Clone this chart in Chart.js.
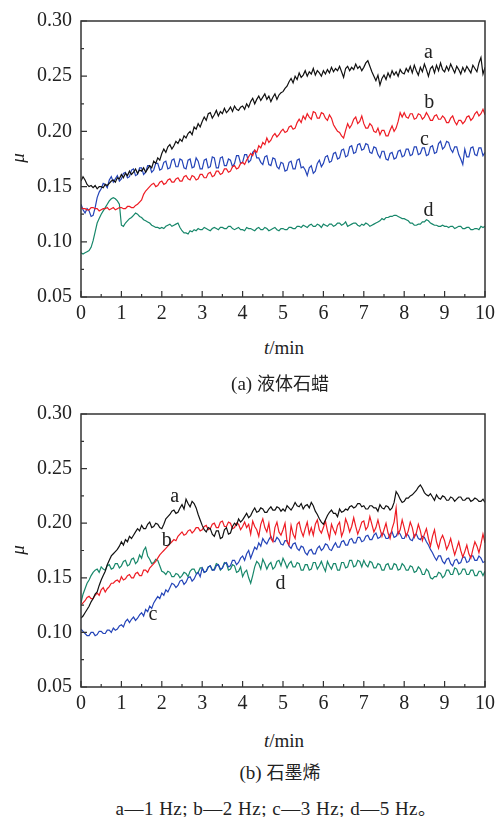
<!DOCTYPE html>
<html>
<head>
<meta charset="utf-8">
<script src="https://cdn.jsdelivr.net/npm/chart.js@4.4.1/dist/chart.umd.min.js"></script>
<style>
  html, body { margin: 0; padding: 0; background: #fff; }
  body { width: 500px; height: 817px; position: relative; overflow: hidden; }
  canvas { position: absolute; left: 0; }
  .txt { position: absolute; white-space: nowrap; color: #222;
         font-family: 'Liberation Serif', 'Times New Roman', serif; font-size: 19px;
         transform: translate(-50%, -50%); line-height: 1; }
  .cjk { font-family: 'Noto Sans CJK SC', sans-serif; font-size: 18px; }
  .mu { font-style: italic; transform: translate(-50%, -50%) rotate(-90deg); }
</style>
</head>
<body>
<canvas id="chartA" width="500" height="330" style="top:0"></canvas>
<canvas id="chartB" width="500" height="330" style="top:393px"></canvas>

<div class="txt mu" style="left:17px; top:158px;">μ</div>
<div class="txt" style="left:284px; top:347px;"><i>t</i>/min</div>
<div class="txt" style="left:280px; top:383px;">(a) <span class="cjk">液体石蜡</span></div>

<div class="txt mu" style="left:17px; top:550px;">μ</div>
<div class="txt" style="left:284px; top:740px;"><i>t</i>/min</div>
<div class="txt" style="left:280px; top:772px;">(b) <span class="cjk">石墨烯</span></div>
<div class="txt" style="left:276px; top:808px; letter-spacing:0.5px;">a—1 Hz; b—2 Hz; c—3 Hz; d—5 Hz<span class="cjk">。</span></div>

<script>
// time axis, minutes (one reading every 0.05 min)
const minutes = [
  0, 0.05, 0.1, 0.15, 0.2, 0.25, 0.3, 0.35, 0.4, 0.45, 0.5, 0.55, 0.6, 0.65, 0.7, 0.75, 0.8, 0.85, 0.9, 0.95,
  1, 1.05, 1.1, 1.15, 1.2, 1.25, 1.3, 1.35, 1.4, 1.45, 1.5, 1.55, 1.6, 1.65, 1.7, 1.75, 1.8, 1.85, 1.9, 1.95,
  2, 2.05, 2.1, 2.15, 2.2, 2.25, 2.3, 2.35, 2.4, 2.45, 2.5, 2.55, 2.6, 2.65, 2.7, 2.75, 2.8, 2.85, 2.9, 2.95,
  3, 3.05, 3.1, 3.15, 3.2, 3.25, 3.3, 3.35, 3.4, 3.45, 3.5, 3.55, 3.6, 3.65, 3.7, 3.75, 3.8, 3.85, 3.9, 3.95,
  4, 4.05, 4.1, 4.15, 4.2, 4.25, 4.3, 4.35, 4.4, 4.45, 4.5, 4.55, 4.6, 4.65, 4.7, 4.75, 4.8, 4.85, 4.9, 4.95,
  5, 5.05, 5.1, 5.15, 5.2, 5.25, 5.3, 5.35, 5.4, 5.45, 5.5, 5.55, 5.6, 5.65, 5.7, 5.75, 5.8, 5.85, 5.9, 5.95,
  6, 6.05, 6.1, 6.15, 6.2, 6.25, 6.3, 6.35, 6.4, 6.45, 6.5, 6.55, 6.6, 6.65, 6.7, 6.75, 6.8, 6.85, 6.9, 6.95,
  7, 7.05, 7.1, 7.15, 7.2, 7.25, 7.3, 7.35, 7.4, 7.45, 7.5, 7.55, 7.6, 7.65, 7.7, 7.75, 7.8, 7.85, 7.9, 7.95,
  8, 8.05, 8.1, 8.15, 8.2, 8.25, 8.3, 8.35, 8.4, 8.45, 8.5, 8.55, 8.6, 8.65, 8.7, 8.75, 8.8, 8.85, 8.9, 8.95,
  9, 9.05, 9.1, 9.15, 9.2, 9.25, 9.3, 9.35, 9.4, 9.45, 9.5, 9.55, 9.6, 9.65, 9.7, 9.75, 9.8, 9.85, 9.9, 9.95,
  10
];

// (a) liquid paraffin: friction coefficient, one row per minute
const paraffin1Hz = [
  0.155, 0.159, 0.156, 0.152, 0.150, 0.151, 0.149, 0.151, 0.148, 0.150, 0.150, 0.149, 0.152, 0.151, 0.153, 0.155, 0.156, 0.154, 0.158, 0.157,
  0.161, 0.158, 0.162, 0.160, 0.164, 0.161, 0.163, 0.166, 0.162, 0.165, 0.164, 0.167, 0.163, 0.166, 0.169, 0.167, 0.173, 0.171, 0.176, 0.174,
  0.180, 0.184, 0.181, 0.186, 0.188, 0.184, 0.187, 0.191, 0.189, 0.193, 0.191, 0.196, 0.194, 0.198, 0.200, 0.197, 0.204, 0.202, 0.207, 0.204,
  0.209, 0.213, 0.210, 0.216, 0.217, 0.212, 0.215, 0.219, 0.214, 0.218, 0.216, 0.221, 0.217, 0.219, 0.222, 0.218, 0.223, 0.220, 0.219, 0.222,
  0.223, 0.220, 0.225, 0.222, 0.227, 0.230, 0.225, 0.229, 0.232, 0.228, 0.231, 0.234, 0.229, 0.232, 0.227, 0.231, 0.234, 0.229, 0.233, 0.235,
  0.236, 0.239, 0.241, 0.245, 0.248, 0.244, 0.250, 0.247, 0.253, 0.249, 0.251, 0.255, 0.250, 0.254, 0.252, 0.257, 0.251, 0.255, 0.253, 0.250,
  0.255, 0.252, 0.256, 0.253, 0.258, 0.254, 0.257, 0.255, 0.259, 0.254, 0.249, 0.257, 0.259, 0.255, 0.258, 0.256, 0.261, 0.257, 0.259, 0.255,
  0.258, 0.262, 0.264, 0.259, 0.254, 0.250, 0.246, 0.251, 0.242, 0.248, 0.251, 0.247, 0.253, 0.249, 0.255, 0.251, 0.254, 0.250, 0.256, 0.253,
  0.252, 0.257, 0.254, 0.259, 0.253, 0.260, 0.255, 0.251, 0.258, 0.254, 0.261, 0.256, 0.250, 0.257, 0.259, 0.253, 0.260, 0.255, 0.262, 0.256,
  0.254, 0.259, 0.255, 0.261, 0.257, 0.253, 0.259, 0.256, 0.252, 0.258, 0.254, 0.259, 0.256, 0.253, 0.260, 0.257, 0.254, 0.262, 0.267, 0.252,
  0.258
];
const paraffin2Hz = [
  0.131, 0.130, 0.130, 0.129, 0.129, 0.131, 0.131, 0.130, 0.130, 0.128, 0.129, 0.130, 0.130, 0.131, 0.129, 0.130, 0.131, 0.129, 0.130, 0.131,
  0.131, 0.130, 0.130, 0.132, 0.132, 0.131, 0.131, 0.133, 0.134, 0.136, 0.138, 0.143, 0.146, 0.148, 0.150, 0.152, 0.153, 0.150, 0.151, 0.154,
  0.155, 0.152, 0.153, 0.156, 0.157, 0.154, 0.154, 0.157, 0.158, 0.155, 0.155, 0.159, 0.160, 0.157, 0.156, 0.160, 0.159, 0.156, 0.157, 0.161,
  0.161, 0.158, 0.158, 0.162, 0.163, 0.159, 0.160, 0.164, 0.164, 0.161, 0.162, 0.166, 0.166, 0.163, 0.164, 0.168, 0.169, 0.166, 0.167, 0.171,
  0.172, 0.170, 0.174, 0.177, 0.180, 0.178, 0.183, 0.181, 0.187, 0.185, 0.190, 0.188, 0.194, 0.190, 0.192, 0.196, 0.198, 0.195, 0.197, 0.200,
  0.202, 0.199, 0.200, 0.204, 0.205, 0.202, 0.203, 0.208, 0.211, 0.208, 0.214, 0.211, 0.216, 0.213, 0.211, 0.218, 0.217, 0.212, 0.212, 0.217,
  0.216, 0.212, 0.210, 0.215, 0.212, 0.206, 0.203, 0.200, 0.199, 0.196, 0.194, 0.201, 0.207, 0.203, 0.206, 0.211, 0.213, 0.207, 0.209, 0.214,
  0.207, 0.203, 0.203, 0.207, 0.205, 0.200, 0.199, 0.203, 0.197, 0.201, 0.201, 0.196, 0.196, 0.201, 0.205, 0.200, 0.203, 0.209, 0.217, 0.213,
  0.217, 0.213, 0.212, 0.216, 0.216, 0.211, 0.212, 0.216, 0.215, 0.211, 0.213, 0.217, 0.214, 0.210, 0.210, 0.214, 0.215, 0.211, 0.211, 0.214,
  0.212, 0.208, 0.208, 0.212, 0.214, 0.209, 0.206, 0.210, 0.210, 0.207, 0.209, 0.213, 0.214, 0.210, 0.212, 0.216, 0.218, 0.214, 0.216, 0.220,
  0.215
];
const paraffin3Hz = [
  0.134, 0.129, 0.126, 0.130, 0.128, 0.123, 0.124, 0.131, 0.140, 0.145, 0.148, 0.153, 0.152, 0.149, 0.156, 0.159, 0.154, 0.157, 0.160, 0.155,
  0.157, 0.162, 0.163, 0.158, 0.159, 0.165, 0.166, 0.160, 0.161, 0.167, 0.167, 0.161, 0.163, 0.169, 0.169, 0.163, 0.165, 0.171, 0.171, 0.165,
  0.166, 0.172, 0.173, 0.166, 0.167, 0.174, 0.175, 0.168, 0.168, 0.175, 0.174, 0.167, 0.166, 0.174, 0.175, 0.167, 0.168, 0.176, 0.173, 0.166,
  0.166, 0.174, 0.175, 0.167, 0.168, 0.177, 0.176, 0.167, 0.167, 0.176, 0.177, 0.169, 0.169, 0.175, 0.174, 0.168, 0.171, 0.178, 0.178, 0.171,
  0.172, 0.179, 0.179, 0.172, 0.174, 0.181, 0.183, 0.176, 0.176, 0.172, 0.170, 0.177, 0.178, 0.170, 0.169, 0.176, 0.175, 0.168, 0.166, 0.172,
  0.171, 0.164, 0.165, 0.172, 0.173, 0.166, 0.166, 0.174, 0.175, 0.167, 0.168, 0.165, 0.160, 0.167, 0.169, 0.162, 0.164, 0.171, 0.174, 0.168,
  0.171, 0.177, 0.178, 0.172, 0.173, 0.180, 0.181, 0.175, 0.176, 0.183, 0.184, 0.177, 0.178, 0.186, 0.187, 0.180, 0.181, 0.188, 0.189, 0.183,
  0.184, 0.189, 0.188, 0.181, 0.180, 0.186, 0.185, 0.179, 0.176, 0.182, 0.182, 0.175, 0.174, 0.180, 0.181, 0.175, 0.176, 0.182, 0.183, 0.177,
  0.178, 0.184, 0.184, 0.178, 0.179, 0.186, 0.186, 0.179, 0.180, 0.185, 0.185, 0.178, 0.179, 0.186, 0.187, 0.180, 0.181, 0.189, 0.191, 0.184,
  0.186, 0.191, 0.190, 0.184, 0.181, 0.186, 0.186, 0.179, 0.175, 0.170, 0.184, 0.177, 0.177, 0.185, 0.186, 0.179, 0.178, 0.185, 0.185, 0.178,
  0.181
];
const paraffin5Hz = [
  0.090, 0.089, 0.090, 0.091, 0.092, 0.095, 0.101, 0.109, 0.117, 0.121, 0.125, 0.128, 0.131, 0.134, 0.137, 0.139, 0.140, 0.139, 0.137, 0.134,
  0.115, 0.114, 0.117, 0.119, 0.121, 0.122, 0.124, 0.126, 0.125, 0.123, 0.122, 0.120, 0.119, 0.118, 0.117, 0.115, 0.114, 0.113, 0.113, 0.112,
  0.113, 0.112, 0.114, 0.115, 0.116, 0.114, 0.115, 0.116, 0.117, 0.113, 0.110, 0.108, 0.108, 0.107, 0.110, 0.109, 0.111, 0.110, 0.112, 0.111,
  0.111, 0.113, 0.112, 0.111, 0.110, 0.112, 0.113, 0.112, 0.111, 0.113, 0.113, 0.112, 0.112, 0.114, 0.114, 0.112, 0.111, 0.112, 0.113, 0.111,
  0.111, 0.110, 0.113, 0.112, 0.112, 0.111, 0.110, 0.112, 0.113, 0.111, 0.111, 0.113, 0.112, 0.110, 0.111, 0.112, 0.113, 0.111, 0.110, 0.112,
  0.112, 0.111, 0.111, 0.113, 0.113, 0.112, 0.112, 0.114, 0.114, 0.113, 0.115, 0.114, 0.113, 0.115, 0.116, 0.114, 0.114, 0.116, 0.115, 0.113,
  0.116, 0.115, 0.114, 0.116, 0.116, 0.114, 0.115, 0.117, 0.117, 0.115, 0.116, 0.118, 0.114, 0.115, 0.116, 0.117, 0.117, 0.115, 0.114, 0.116,
  0.115, 0.117, 0.116, 0.114, 0.115, 0.116, 0.117, 0.118, 0.119, 0.121, 0.120, 0.122, 0.122, 0.123, 0.123, 0.124, 0.124, 0.123, 0.122, 0.121,
  0.121, 0.120, 0.119, 0.117, 0.117, 0.115, 0.115, 0.116, 0.116, 0.118, 0.118, 0.120, 0.119, 0.117, 0.116, 0.115, 0.115, 0.114, 0.114, 0.115,
  0.114, 0.114, 0.113, 0.114, 0.114, 0.112, 0.113, 0.114, 0.114, 0.112, 0.112, 0.113, 0.113, 0.111, 0.111, 0.112, 0.112, 0.111, 0.114, 0.113,
  0.114
];

// (b) graphene: friction coefficient, one row per minute
const graphene1Hz = [
  0.113, 0.115, 0.118, 0.121, 0.124, 0.128, 0.131, 0.135, 0.137, 0.143, 0.148, 0.152, 0.156, 0.162, 0.166, 0.170, 0.172, 0.174, 0.176, 0.179,
  0.183, 0.180, 0.185, 0.183, 0.188, 0.186, 0.189, 0.192, 0.195, 0.193, 0.198, 0.195, 0.195, 0.199, 0.201, 0.196, 0.197, 0.200, 0.199, 0.196,
  0.195, 0.199, 0.204, 0.206, 0.208, 0.211, 0.212, 0.209, 0.210, 0.214, 0.217, 0.213, 0.222, 0.218, 0.215, 0.220, 0.218, 0.214, 0.208, 0.203,
  0.198, 0.194, 0.192, 0.196, 0.195, 0.190, 0.188, 0.193, 0.193, 0.186, 0.187, 0.194, 0.196, 0.190, 0.191, 0.197, 0.200, 0.198, 0.204, 0.201,
  0.203, 0.206, 0.209, 0.205, 0.207, 0.211, 0.214, 0.210, 0.211, 0.214, 0.213, 0.210, 0.210, 0.213, 0.215, 0.212, 0.212, 0.215, 0.214, 0.211,
  0.213, 0.211, 0.216, 0.214, 0.212, 0.215, 0.219, 0.216, 0.215, 0.218, 0.213, 0.216, 0.217, 0.214, 0.219, 0.216, 0.211, 0.208, 0.204, 0.201,
  0.199, 0.203, 0.207, 0.210, 0.212, 0.209, 0.209, 0.206, 0.213, 0.210, 0.211, 0.213, 0.212, 0.215, 0.216, 0.214, 0.215, 0.218, 0.218, 0.215,
  0.216, 0.213, 0.213, 0.216, 0.216, 0.214, 0.214, 0.211, 0.217, 0.214, 0.213, 0.216, 0.215, 0.212, 0.214, 0.219, 0.229, 0.226, 0.222, 0.219,
  0.220, 0.223, 0.223, 0.225, 0.226, 0.228, 0.230, 0.233, 0.235, 0.232, 0.228, 0.226, 0.225, 0.227, 0.224, 0.221, 0.226, 0.223, 0.222, 0.225,
  0.224, 0.221, 0.221, 0.224, 0.223, 0.220, 0.222, 0.224, 0.224, 0.221, 0.221, 0.223, 0.223, 0.220, 0.221, 0.223, 0.222, 0.220, 0.220, 0.222,
  0.219
];
const graphene2Hz = [
  0.125, 0.127, 0.129, 0.132, 0.133, 0.131, 0.131, 0.134, 0.136, 0.134, 0.139, 0.141, 0.137, 0.140, 0.142, 0.145, 0.145, 0.147, 0.148, 0.146,
  0.151, 0.148, 0.149, 0.152, 0.153, 0.150, 0.150, 0.154, 0.155, 0.152, 0.152, 0.157, 0.157, 0.155, 0.159, 0.161, 0.163, 0.165, 0.168, 0.171,
  0.173, 0.175, 0.177, 0.179, 0.181, 0.183, 0.185, 0.184, 0.188, 0.190, 0.192, 0.189, 0.190, 0.193, 0.194, 0.191, 0.193, 0.196, 0.196, 0.193,
  0.194, 0.197, 0.198, 0.194, 0.195, 0.199, 0.200, 0.196, 0.196, 0.201, 0.202, 0.197, 0.197, 0.201, 0.200, 0.195, 0.196, 0.200, 0.199, 0.194,
  0.197, 0.201, 0.196, 0.199, 0.190, 0.202, 0.197, 0.194, 0.188, 0.199, 0.204, 0.196, 0.192, 0.200, 0.186, 0.183, 0.196, 0.201, 0.192, 0.189,
  0.194, 0.200, 0.183, 0.180, 0.198, 0.190, 0.186, 0.199, 0.201, 0.193, 0.188, 0.195, 0.201, 0.190, 0.196, 0.189, 0.199, 0.203, 0.194, 0.191,
  0.196, 0.202, 0.193, 0.186, 0.199, 0.194, 0.190, 0.198, 0.201, 0.188, 0.193, 0.204, 0.199, 0.192, 0.197, 0.205, 0.197, 0.190, 0.195, 0.201,
  0.202, 0.194, 0.197, 0.206, 0.199, 0.192, 0.196, 0.203, 0.195, 0.188, 0.194, 0.200, 0.191, 0.186, 0.195, 0.201, 0.214, 0.190, 0.194, 0.203,
  0.196, 0.188, 0.193, 0.201, 0.196, 0.187, 0.191, 0.199, 0.193, 0.184, 0.190, 0.195, 0.186, 0.179, 0.188, 0.194, 0.183, 0.177, 0.185, 0.189,
  0.184, 0.176, 0.180, 0.186, 0.178, 0.171, 0.177, 0.183, 0.175, 0.169, 0.174, 0.180, 0.172, 0.168, 0.176, 0.183, 0.179, 0.173, 0.181, 0.190,
  0.182
];
const graphene3Hz = [
  0.103, 0.101, 0.099, 0.097, 0.097, 0.100, 0.100, 0.097, 0.098, 0.101, 0.101, 0.099, 0.099, 0.102, 0.102, 0.100, 0.104, 0.102, 0.103, 0.106,
  0.107, 0.105, 0.110, 0.112, 0.109, 0.112, 0.114, 0.111, 0.113, 0.116, 0.118, 0.115, 0.121, 0.119, 0.124, 0.122, 0.127, 0.130, 0.133, 0.131,
  0.136, 0.134, 0.139, 0.137, 0.141, 0.145, 0.144, 0.141, 0.143, 0.147, 0.148, 0.144, 0.146, 0.150, 0.151, 0.147, 0.149, 0.153, 0.155, 0.151,
  0.159, 0.155, 0.156, 0.160, 0.161, 0.157, 0.157, 0.161, 0.162, 0.158, 0.159, 0.163, 0.164, 0.160, 0.161, 0.166, 0.166, 0.162, 0.164, 0.168,
  0.170, 0.166, 0.172, 0.175, 0.168, 0.173, 0.178, 0.176, 0.182, 0.179, 0.186, 0.183, 0.181, 0.185, 0.188, 0.184, 0.183, 0.187, 0.185, 0.181,
  0.180, 0.184, 0.184, 0.179, 0.177, 0.181, 0.182, 0.177, 0.175, 0.179, 0.178, 0.173, 0.171, 0.175, 0.176, 0.172, 0.172, 0.177, 0.179, 0.175,
  0.177, 0.181, 0.180, 0.176, 0.175, 0.179, 0.182, 0.178, 0.178, 0.183, 0.184, 0.180, 0.180, 0.185, 0.186, 0.182, 0.182, 0.187, 0.187, 0.183,
  0.184, 0.188, 0.189, 0.185, 0.185, 0.189, 0.191, 0.186, 0.187, 0.191, 0.190, 0.186, 0.186, 0.190, 0.192, 0.187, 0.188, 0.192, 0.190, 0.186,
  0.186, 0.190, 0.189, 0.185, 0.184, 0.189, 0.190, 0.186, 0.185, 0.188, 0.187, 0.183, 0.180, 0.176, 0.173, 0.169, 0.166, 0.170, 0.170, 0.165,
  0.163, 0.167, 0.168, 0.163, 0.161, 0.166, 0.167, 0.163, 0.164, 0.169, 0.169, 0.164, 0.165, 0.170, 0.170, 0.166, 0.166, 0.170, 0.168, 0.164,
  0.165
];
const graphene5Hz = [
  0.127, 0.135, 0.140, 0.145, 0.148, 0.152, 0.155, 0.157, 0.158, 0.155, 0.160, 0.158, 0.157, 0.161, 0.162, 0.158, 0.159, 0.163, 0.163, 0.159,
  0.161, 0.165, 0.166, 0.161, 0.162, 0.167, 0.168, 0.163, 0.165, 0.171, 0.168, 0.175, 0.178, 0.170, 0.167, 0.163, 0.164, 0.167, 0.166, 0.161,
  0.156, 0.155, 0.153, 0.156, 0.155, 0.151, 0.151, 0.154, 0.153, 0.150, 0.152, 0.155, 0.154, 0.151, 0.156, 0.158, 0.158, 0.154, 0.155, 0.159,
  0.159, 0.155, 0.156, 0.160, 0.161, 0.157, 0.158, 0.163, 0.162, 0.157, 0.159, 0.164, 0.163, 0.157, 0.158, 0.162, 0.161, 0.155, 0.156, 0.160,
  0.151, 0.155, 0.157, 0.150, 0.145, 0.152, 0.160, 0.165, 0.163, 0.158, 0.167, 0.163, 0.158, 0.162, 0.164, 0.158, 0.160, 0.165, 0.166, 0.161,
  0.168, 0.164, 0.159, 0.163, 0.165, 0.160, 0.160, 0.164, 0.163, 0.157, 0.157, 0.162, 0.162, 0.157, 0.158, 0.164, 0.164, 0.158, 0.161, 0.165,
  0.160, 0.156, 0.165, 0.161, 0.158, 0.163, 0.163, 0.157, 0.157, 0.164, 0.164, 0.159, 0.160, 0.166, 0.166, 0.160, 0.161, 0.166, 0.165, 0.160,
  0.166, 0.162, 0.160, 0.165, 0.164, 0.159, 0.159, 0.163, 0.162, 0.157, 0.157, 0.162, 0.163, 0.158, 0.158, 0.163, 0.162, 0.157, 0.158, 0.163,
  0.161, 0.157, 0.157, 0.161, 0.160, 0.155, 0.156, 0.160, 0.158, 0.153, 0.153, 0.158, 0.156, 0.150, 0.149, 0.151, 0.151, 0.155, 0.154, 0.150,
  0.152, 0.157, 0.157, 0.153, 0.153, 0.159, 0.158, 0.153, 0.154, 0.158, 0.158, 0.153, 0.153, 0.157, 0.157, 0.152, 0.152, 0.156, 0.156, 0.152,
  0.156
];

// y axis ticks
const muTicks = [0.05, 0.10, 0.15, 0.20, 0.25, 0.30];

// curve letters, placed in data units (t, mu)
const paraffinTags = [
  { text: 'a', t: 8.6, mu: 0.271 },
  { text: 'b', t: 8.62, mu: 0.226 },
  { text: 'c', t: 8.5, mu: 0.192 },
  { text: 'd', t: 8.6, mu: 0.128 }
];
const grapheneTags = [
  { text: 'a', t: 2.32, mu: 0.224 },
  { text: 'b', t: 2.12, mu: 0.184 },
  { text: 'c', t: 1.78, mu: 0.116 },
  { text: 'd', t: 4.94, mu: 0.145 }
];

const colors = ['#111111', '#ee1c24', '#2444b8', '#17876a'];
const serif = "'Liberation Serif', 'Times New Roman', serif";

// box frame, inward ticks and curve letters
const framePlugin = {
  id: 'frame',
  afterDraw(chart, args, opts) {
    const { ctx, chartArea: a, scales } = chart;
    const x = scales.x, y = scales.y;
    ctx.save();
    ctx.strokeStyle = '#333';
    ctx.lineWidth = 1.5;
    ctx.strokeRect(a.left, a.top, a.right - a.left, a.bottom - a.top);

    // inward major + half-step minor ticks on bottom and left
    ctx.lineWidth = 1.2;
    ctx.beginPath();
    x.ticks.forEach((tk, i) => {
      const px = x.getPixelForValue(tk.value);
      ctx.moveTo(px, a.bottom); ctx.lineTo(px, a.bottom - 6);
      if (i < x.ticks.length - 1) {
        const mx = x.getPixelForValue(tk.value + 0.5);
        ctx.moveTo(mx, a.bottom); ctx.lineTo(mx, a.bottom - 3);
      }
    });
    y.ticks.forEach((tk, i) => {
      const py = y.getPixelForValue(tk.value);
      ctx.moveTo(a.left, py); ctx.lineTo(a.left + 6, py);
      if (i < y.ticks.length - 1) {
        const my = y.getPixelForValue(tk.value + 0.025);
        ctx.moveTo(a.left, my); ctx.lineTo(a.left + 3, my);
      }
    });
    ctx.stroke();

    ctx.fillStyle = '#222';
    ctx.font = '20px ' + serif;
    ctx.textAlign = 'center';
    ctx.textBaseline = 'middle';
    (opts.tags || []).forEach(tg => {
      ctx.fillText(tg.text, x.getPixelForValue(tg.t), y.getPixelForValue(tg.mu));
    });
    ctx.restore();
  }
};

function makeChart(id, series, tags, pad) {
  const ctx = document.getElementById(id).getContext('2d');
  return new Chart(ctx, {
    type: 'line',
    data: {
      labels: minutes,
      datasets: series.map((s, i) => ({
        data: s,
        borderColor: colors[i],
        borderWidth: 1.2,
        pointRadius: 0,
        tension: 0,
        fill: false
      }))
    },
    options: {
      responsive: false,
      animation: false,
      events: [],
      layout: { padding: { top: pad.top, bottom: pad.bottom, left: 0, right: 13 } },
      plugins: { legend: { display: false }, tooltip: { enabled: false }, frame: { tags: tags } },
      scales: {
        x: {
          type: 'linear', min: 0, max: 10,
          grid: { display: false, drawTicks: false },
          border: { display: false },
          ticks: { stepSize: 1, padding: 5, color: '#222', font: { family: serif, size: 20 },
                   maxRotation: 0, autoSkip: false },
          afterFit(scale) { scale.height = 30; }
        },
        y: {
          min: 0.05, max: 0.30,
          grid: { display: false, drawTicks: false },
          border: { display: false },
          afterBuildTicks(scale) { scale.ticks = muTicks.map(v => ({ value: v })); },
          ticks: { padding: 9, color: '#222', font: { family: serif, size: 20 },
                   callback: v => v.toFixed(2) },
          afterFit(scale) { scale.width = 81; }
        }
      }
    },
    plugins: [framePlugin]
  });
}

document.addEventListener('DOMContentLoaded', function () {
  makeChart('chartA', [paraffin1Hz, paraffin2Hz, paraffin3Hz, paraffin5Hz], paraffinTags, { top: 20, bottom: 3 });
  makeChart('chartB', [graphene1Hz, graphene2Hz, graphene3Hz, graphene5Hz], grapheneTags, { top: 20, bottom: 6 });
});
</script>
</body>
</html>
